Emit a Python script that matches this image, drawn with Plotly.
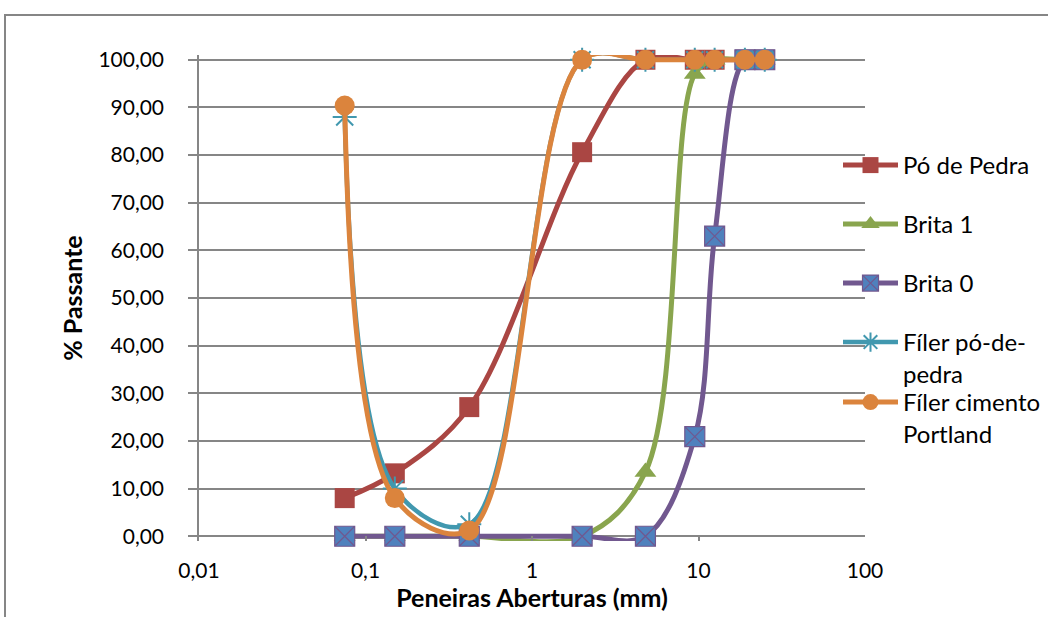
import plotly.graph_objects as go

# ---------------- data ----------------
sieve_mm = [0.075, 0.15, 0.42, 2.0, 4.8, 9.5, 12.5, 19.0, 25.0]
po_de_pedra = [8.0, 13.2, 27.1, 80.6, 100.0, 100.0, 100.0, 100.0, 100.0]
brita_1 = [0.0, 0.0, 0.0, 0.0, 13.5, 97.0, 100.0, 100.0, 100.0]
brita_0 = [0.0, 0.0, 0.0, 0.0, 0.0, 20.9, 63.0, 100.0, 100.0]
filer_po_de_pedra = [88.0, 10.0, 2.5, 100.0, 100.0, 100.0, 100.0, 100.0, 100.0]
filer_cimento = [90.4, 8.0, 1.2, 100.0, 100.0, 100.0, 100.0, 100.0, 100.0]

series_names = ["Pó de Pedra", "Brita 1", "Brita 0", "Fíler pó-de-<br>pedra", "Fíler cimento<br>Portland"]
x_tickvals = [0.01, 0.1, 1, 10, 100]
x_ticktext = ["0,01", "0,1", "1", "10", "100"]
y_tickvals = [0, 10, 20, 30, 40, 50, 60, 70, 80, 90, 100]

# ---------------- styling ----------------
W, H = 1048, 617
ML, MR, MT, MB = 199, 183, 55, 76
PW, PH = W - ML - MR, H - MT - MB
GRID = "#868686"
FONT = "Lato"

def px_x(p):
    return (p - ML) / PW

def px_y(p):
    return (H - MB - p) / PH

styles = [
    dict(color="#AA4643", symbol="square", fill="#AA4643", lcolor="#AA4643", size=20, lw=0, width=5),
    dict(color="#89A54E", symbol="triangle-up", fill="#89A54E", lcolor="#89A54E", size=19, lw=0, width=5),
    dict(color="#71588F", symbol="square-x", fill="#4F81BD", lcolor="#71588F", size=20, lw=1.2, width=5),
    dict(color="#4198AF", symbol="asterisk-open", fill="#4198AF", lcolor="#4198AF", size=20, lw=2, width=4.5),
    dict(color="#DB843D", symbol="circle", fill="#DB843D", lcolor="#DB843D", size=20, lw=0, width=5),
]
all_y = [po_de_pedra, brita_1, brita_0, filer_po_de_pedra, filer_cimento]
legend_ids = ["legend", "legend2", "legend3", "legend4", "legend5"]
legend_centers = [165, 224, 283, 342, 402]

fig = go.Figure()
for name, ys, st, lid in zip(series_names, all_y, styles, legend_ids):
    fig.add_trace(go.Scatter(
        x=sieve_mm, y=ys, name=name, mode="lines+markers",
        line=dict(color=st["color"], width=st["width"], shape="spline", smoothing=1),
        marker=dict(symbol=st["symbol"], size=st["size"], color=st["fill"],
                    line=dict(color=st["lcolor"], width=st["lw"])),
        cliponaxis=False, legend=lid,
    ))

layout_legends = {}
for lid, cy in zip(legend_ids, legend_centers):
    layout_legends[lid] = dict(
        x=838 / W, y=1 - (cy - 22) / H, xref="container", yref="container",
        xanchor="left", yanchor="top", valign="top",
        bgcolor="rgba(0,0,0,0)", borderwidth=0,
        font=dict(family=FONT, size=24, color="#000000"),
        itemwidth=55, tracegroupgap=0,
    )

fig.update_layout(
    width=W, height=H,
    margin=dict(l=ML, r=MR, t=MT, b=MB, pad=0, autoexpand=False),
    paper_bgcolor="white", plot_bgcolor="white",
    separators=",.",
    font=dict(family=FONT, size=21, color="#000000"),
    showlegend=True,
    **layout_legends,
    xaxis=dict(
        type="log", range=[-2, 2], automargin=False,
        tickvals=x_tickvals, ticktext=x_ticktext,
        showgrid=False, zeroline=False, showline=False,
        ticks="inside", ticklen=5, tickwidth=1.5, tickcolor=GRID,
        ticklabelstandoff=15,
        tickfont=dict(family=FONT, size=21, color="#000000"),
        title=dict(text="<b>Peneiras Aberturas (mm)</b>", standoff=2,
                   font=dict(family=FONT, size=25, color="#000000")),
    ),
    yaxis=dict(
        range=[-1, 101], tickvals=y_tickvals, tickformat=".2f", automargin=False,
        showgrid=True, gridcolor=GRID, gridwidth=1.5,
        zeroline=True, zerolinecolor=GRID, zerolinewidth=1.5,
        showline=True, linecolor=GRID, linewidth=1.5,
        ticks="outside", ticklen=9, tickwidth=1.5, tickcolor=GRID,
        ticklabelstandoff=20,
        tickfont=dict(family=FONT, size=21, color="#000000"),
        title=dict(text="<b>% Passante</b>", standoff=9,
                   font=dict(family=FONT, size=25, color="#000000")),
    ),
    shapes=[dict(type="rect", xref="paper", yref="paper",
                 x0=px_x(5), x1=px_x(1120), y0=px_y(15), y1=px_y(700),
                 line=dict(color=GRID, width=2), fillcolor="rgba(0,0,0,0)", layer="below")],
)

fig.write_html("out.html")
